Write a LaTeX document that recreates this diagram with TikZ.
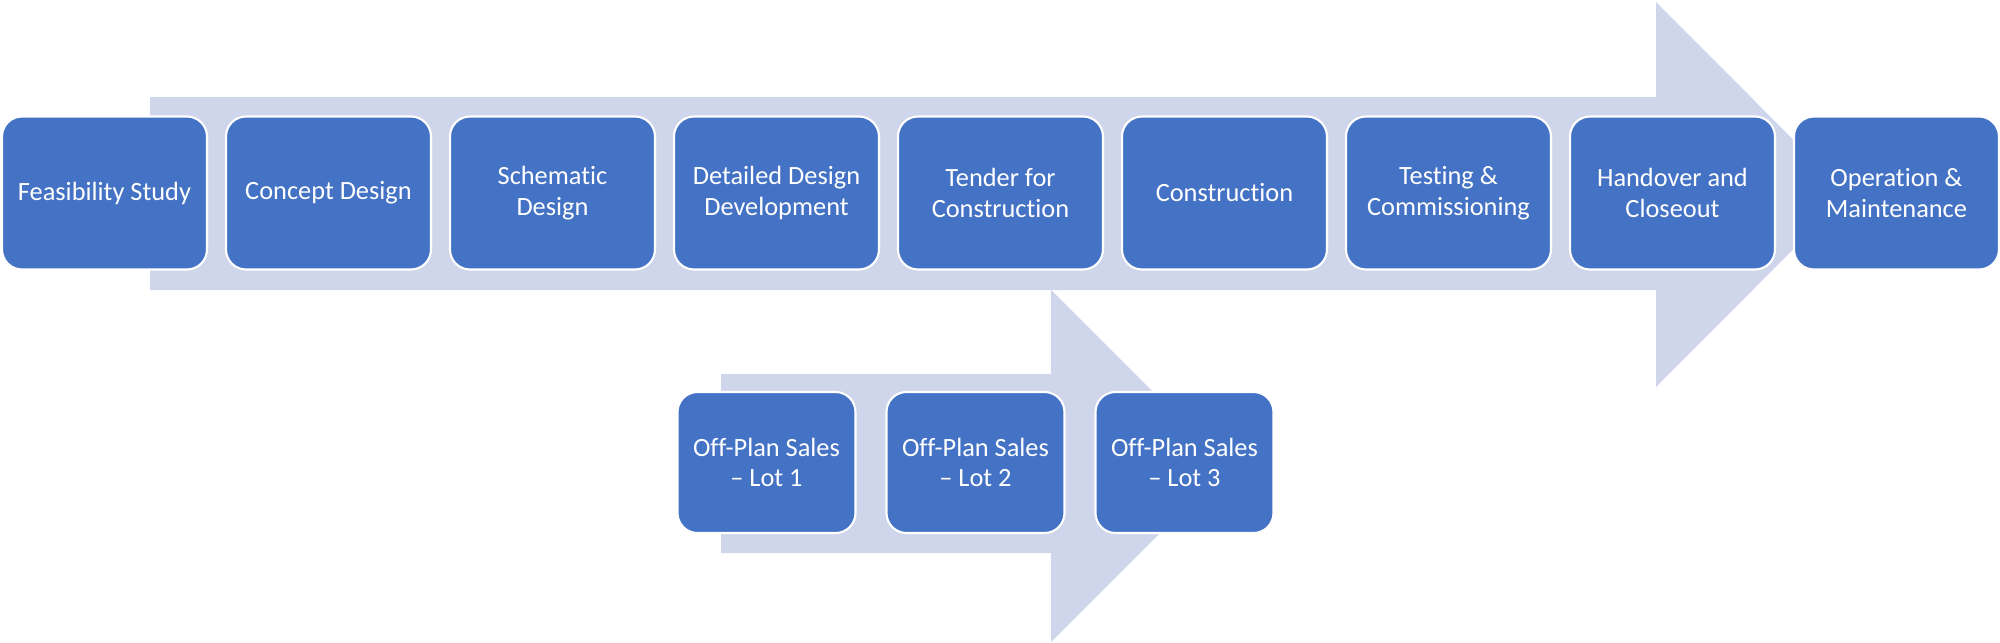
\documentclass[tikz,border=0pt]{standalone}
\usepackage{fontspec}
\setmainfont{Carlito}[Ligatures=NoCommon]
\usepackage{xcolor}
\usepackage{tikz}
\usetikzlibrary{positioning}

\definecolor{stageblue}{HTML}{4472C4}
\definecolor{arrowgrey}{HTML}{CFD5EA}

\begin{document}
\begin{tikzpicture}[
      x=0.1mm, y=-0.1mm,
      node distance=1.9mm,
      stage/.style={rectangle, rounded corners=2mm, draw=white, line width=0.6pt,
        outer sep=0pt, fill=stageblue, text=white, minimum width=20.5mm,
        minimum height=15.3mm, align=center, font=\fontsize{7.5}{8.7}\selectfont},
      sale/.style={stage, minimum width=17.8mm, minimum height=14.1mm},
      flow/.style={fill=arrowgrey}
    ]
      \useasboundingbox (0,0) rectangle (2000,643);
      % background arrows
      \fill[flow] (150,97) -- (1656,97) -- (1656,2) -- (1848,194.5)
        -- (1656,387) -- (1656,290) -- (150,290) -- cycle;
      \fill[flow] (721,374) -- (1051,374) -- (1051,290) -- (1227,466)
        -- (1051,642) -- (1051,553) -- (721,553) -- cycle;
      % main stages
      \node[stage] (feasibility) at (104.5,193) {Feasibility Study};
      \node[stage, right=of feasibility] (concept) {Concept Design};
      \node[stage, right=of concept] (schematic) {Schematic\\Design};
      \node[stage, right=of schematic] (detailed) {Detailed Design\\Development};
      \node[stage, right=of detailed] (tender) {Tender for\\Construction};
      \node[stage, right=of tender] (construction) {Construction};
      \node[stage, right=of construction] (testing) {Testing \&\\Commissioning};
      \node[stage, right=of testing] (handover) {Handover and\\Closeout};
      \node[stage, right=of handover] (operation) {Operation \&\\Maintenance};
      % sales lots
      \node[sale] (lot1) at (766.5,462.5) {Off-Plan Sales\\– Lot 1};
      \node[sale, right=3.1mm of lot1] (lot2) {Off-Plan Sales\\– Lot 2};
      \node[sale, right=3.1mm of lot2] (lot3) {Off-Plan Sales\\– Lot 3};
    \end{tikzpicture}
\end{document}
